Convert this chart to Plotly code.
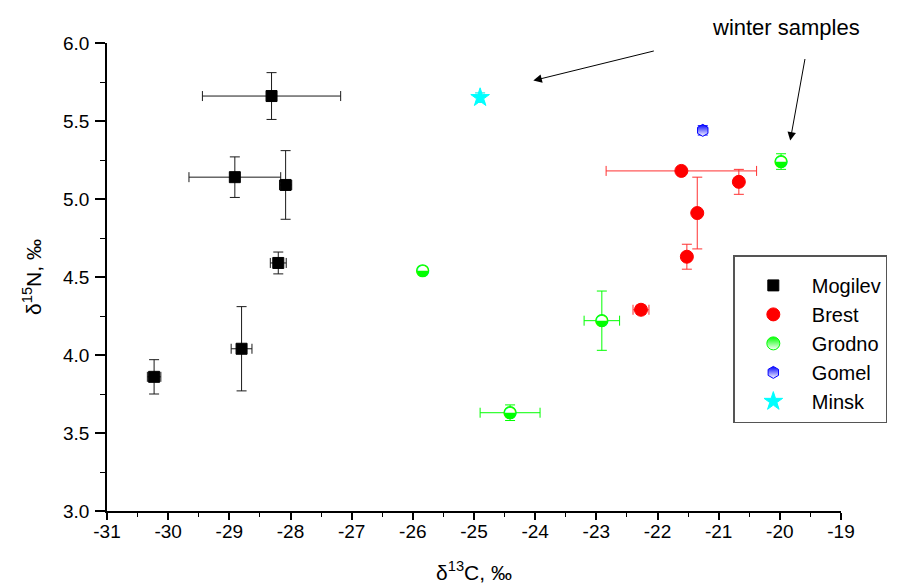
import plotly.graph_objects as go

# ---- data ----
mog_x = [-28.31, -28.91, -28.08, -28.20, -28.80, -30.23]
mog_y = [5.66, 5.14, 5.09, 4.59, 4.04, 3.86]
mog_xerr = [1.13, 0.75, 0.10, 0.13, 0.17, 0.11]
mog_yerr = [0.15, 0.13, 0.22, 0.07, 0.27, 0.11]

bre_x = [-21.61, -20.67, -21.35, -21.52, -22.27]
bre_y = [5.18, 5.11, 4.91, 4.63, 4.29]
bre_xerr = [1.23, 0.0, 0.0, 0.0, 0.13]
bre_yerr = [0.0, 0.08, 0.23, 0.08, 0.03]

gro_x = [-25.84, -22.91, -24.41, -19.98]
gro_y = [4.54, 4.22, 3.63, 5.24]
gro_xerr = [0.0, 0.29, 0.49, 0.0]
gro_yerr = [0.0, 0.19, 0.05, 0.05]

gom_x = [-21.26]
gom_y = [5.44]
gom_yerr = [0.03]

min_x = [-24.90]
min_y = [5.65]
min_yerr = [0.03]

x_tickvals = list(range(-31, -18))
x_ticktext = ["-31", "-30", "-29", "-28", "-27", "-26", "-25",
              "-24", "-23", "-22", "-21", "-20", "-19"]
y_tickvals = [3.0, 3.5, 4.0, 4.5, 5.0, 5.5, 6.0]
y_ticktext = ["3.0", "3.5", "4.0", "4.5", "5.0", "5.5", "6.0"]

FONT = "Liberation Sans, Arial, sans-serif"
GREEN = '#00ff00'

fig = go.Figure()

def errs(xe, ye, color):
    d = {}
    if xe is not None:
        d['error_x'] = dict(type='data', array=xe, color=color, thickness=1, width=5)
    if ye is not None:
        d['error_y'] = dict(type='data', array=ye, color=color, thickness=1, width=5)
    return d

# Mogilev
fig.add_trace(go.Scatter(
    x=mog_x, y=mog_y, mode='markers', name='Mogilev', legendrank=1,
    marker=dict(symbol='square', size=11, color='black', line=dict(color='black', width=1)),
    **errs(mog_xerr, mog_yerr, '#1a1a1a')))

# Brest
fig.add_trace(go.Scatter(
    x=bre_x, y=bre_y, mode='markers', name='Brest', legendrank=2,
    marker=dict(symbol='circle', size=13, color='#ff0000', line=dict(color='#ff0000', width=1)),
    **errs(bre_xerr, bre_yerr, '#ff3030')))

# Grodno: white-filled circle with error bars, lower half filled via glyph
fig.add_trace(go.Scatter(
    x=gro_x, y=gro_y, mode='markers', name='Grodno', showlegend=False,
    legendgroup='gro',
    marker=dict(symbol='circle', size=12, color='white', line=dict(color=GREEN, width=1.2)),
    **errs(gro_xerr, gro_yerr, GREEN)))
fig.add_trace(go.Scatter(
    x=gro_x, y=gro_y, mode='text', text=['◒'] * len(gro_x), showlegend=False,
    legendgroup='gro', textposition='middle center', hoverinfo='skip',
    textfont=dict(family='DejaVu Sans', size=16, color=GREEN)))
fig.add_trace(go.Scatter(
    x=[None], y=[None], mode='markers', name='Grodno', legendrank=3, legendgroup='gro',
    marker=dict(symbol='circle', size=13, color=GREEN, line=dict(color=GREEN, width=1),
                gradient=dict(type='vertical', color='white'))))

# Gomel
fig.add_trace(go.Scatter(
    x=gom_x, y=gom_y, mode='markers', name='Gomel', legendrank=4,
    marker=dict(symbol='hexagon', size=12, color='#0000ff', line=dict(color='#0000ff', width=1),
                gradient=dict(type='vertical', color='white')),
    **errs(None, gom_yerr, '#0000ff')))

# Minsk
fig.add_trace(go.Scatter(
    x=min_x, y=min_y, mode='markers', name='Minsk', legendrank=5,
    marker=dict(symbol='star', size=14, color='#00ffff', line=dict(color='#00ffff', width=1)),
    **errs(None, min_yerr, '#00e0e0')))

axis_common = dict(
    showline=True, linecolor='black', linewidth=1.6, mirror=False,
    ticks='outside', tickwidth=1.5, tickcolor='black',
    showgrid=False, zeroline=False, automargin=False,
    tickfont=dict(family=FONT, size=19, color='black'),
)

fig.update_xaxes(
    range=[-31, -19], tickvals=x_tickvals, ticktext=x_ticktext, ticklen=7,
    ticklabelstandoff=-5,
    minor=dict(dtick=0.5, tick0=-31, ticks='outside', ticklen=4, tickcolor='black', tickwidth=1),
    title=dict(text='δ<sup>13</sup>C, ‰', font=dict(family=FONT, size=21, color='black'),
               standoff=25),
    **axis_common,
)
fig.update_yaxes(
    range=[3.0, 6.0], tickvals=y_tickvals, ticktext=y_ticktext, ticklen=10,
    ticklabelstandoff=2,
    minor=dict(dtick=0.25, tick0=3.0, ticks='outside', ticklen=5, tickcolor='black', tickwidth=1),
    title=dict(text='δ<sup>15</sup>N, ‰', font=dict(family=FONT, size=21, color='black'),
               standoff=16),
    **axis_common,
)

fig.add_annotation(xref='paper', yref='paper', x=0.9255, y=1.033,
                   text='winter samples', showarrow=False,
                   font=dict(family=FONT, size=22, color='black'),
                   xanchor='center', yanchor='middle')
fig.add_annotation(x=-24.03, y=5.759, xref='x', yref='y', text='', showarrow=True,
                   ax=122, ay=-30, arrowhead=2, arrowsize=1.7, arrowwidth=1,
                   arrowcolor='black', standoff=0)
fig.add_annotation(x=-19.83, y=5.375, xref='x', yref='y', text='', showarrow=True,
                   ax=15, ay=-83, arrowhead=2, arrowsize=1.7, arrowwidth=1,
                   arrowcolor='black', standoff=0)

# page body has an 8px margin; the figure is sized so it ends at the window edge
fig.update_layout(
    width=894, height=576,
    margin=dict(l=98.7, r=61.3, t=34.5, b=73),
    paper_bgcolor='white', plot_bgcolor='white',
    font=dict(family=FONT, color='black'),
    showlegend=True,
    legend=dict(x=0.8533, y=0.5464, xanchor='left', yanchor='top',
                bordercolor='#555555', borderwidth=1.5, bgcolor='white',
                font=dict(family=FONT, size=20, color='black'),
                title=dict(text=' ', font=dict(size=7)),
                itemwidth=67, tracegroupgap=0, traceorder='normal'),
)

fig.write_html("out.html")
